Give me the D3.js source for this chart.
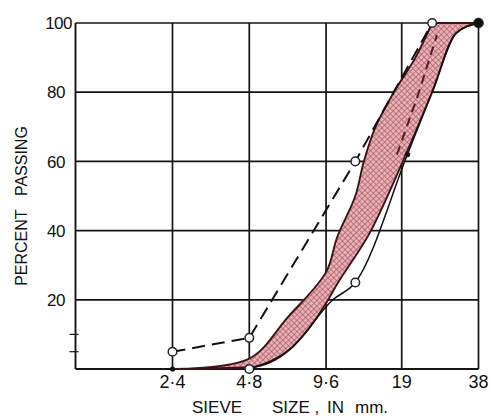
<!DOCTYPE html>
<html>
<head>
<meta charset="utf-8">
<script src="https://cdn.jsdelivr.net/npm/d3@7"></script>
<style>
  html, body { margin: 0; padding: 0; background: #fff; }
  svg { display: block; }
  text { font-family: "Liberation Sans", Arial, sans-serif; fill: #111; }
</style>
</head>
<body>
<svg id="chart" width="491" height="417"></svg>
<script>
// ---------- data ----------
const sizeTicks = [2.4, 4.8, 9.6, 19, 38];
const sizeTickLabels = ["2·4", "4·8", "9·6", "19", "38"];
const pctTicks = [20, 40, 60, 80, 100];
const pctTickLabels = ["20", "40", "60", "80", "100"];
const minorPctTicks = [5, 10];

// upper (fine) limit, dashed with open circles
const upperLimitSize = [2.4, 4.8, 12.5, 25];
const upperLimitPct  = [5, 9, 60, 100];

// lower (coarse) limit, solid line
const lowerLimitSize = [4.8, 7, 10.2, 12.5, 20, 25, 31, 38];
const lowerLimitPct  = [0, 6, 20, 25, 62, 80, 97, 100];
const lowerLimitMark = ["o", "", "", "o", "dot", "", "", "big"];

// shaded grading band: upper (left) edge and lower (right) edge
const bandUpperSize = [2.4, 4.8, 6.8, 9.6, 10.6, 12.5, 13.5, 15, 17.7, 21.5, 25, 38];
const bandUpperPct  = [0, 3, 15, 28, 38, 50, 60, 70, 80, 90, 100, 100];
const bandLowerSize = [2.4, 4.8, 7, 9.6, 10.5, 14.4, 19.2, 25, 31, 38];
const bandLowerPct  = [0, 0.5, 6, 19, 24, 40, 60, 80, 97, 100];

// dashed trace inside the band
const midSize = [18.2, 22.2, 26.1];
const midPct  = [62, 80, 96.5];

// ---------- chart ----------
const svg = d3.select("#chart");
const x = d3.scaleLog().domain([1, 38]).range([75.5, 478.5]);
const y = d3.scaleLinear().domain([0, 100]).range([369, 23]);

// pattern for the band
const defs = svg.append("defs");
const pat = defs.append("pattern")
  .attr("id", "hatch").attr("patternUnits", "userSpaceOnUse")
  .attr("width", 4).attr("height", 4)
  .attr("patternTransform", "rotate(45)");
pat.append("rect").attr("width", 4).attr("height", 4).attr("fill", "#e8b2b7");
pat.append("line").attr("x1", 0).attr("y1", 0).attr("x2", 4).attr("y2", 0)
  .attr("stroke", "#a24e59").attr("stroke-width", 1.2);
pat.append("line").attr("x1", 0).attr("y1", 0).attr("x2", 0).attr("y2", 4)
  .attr("stroke", "#a24e59").attr("stroke-width", 1.2);

const [xl, xr] = x.range();
const [yb, yt] = y.range();

// grid
const g = svg.append("g").attr("stroke", "#151515").attr("stroke-width", 1.7).attr("fill", "none");
g.selectAll(".hg").data(pctTicks).join("line")
  .attr("x1", xl).attr("x2", xr).attr("y1", d => y(d)).attr("y2", d => y(d));
g.selectAll(".vg").data(sizeTicks).join("line")
  .attr("x1", d => x(d)).attr("x2", d => x(d)).attr("y1", yb).attr("y2", yt);
g.append("line").attr("x1", xl).attr("x2", xl).attr("y1", yb).attr("y2", yt).attr("stroke-width", 1.9);
g.append("line").attr("x1", xl).attr("x2", xr).attr("y1", yb).attr("y2", yb).attr("stroke-width", 1.9);
// minor ticks on the left axis
g.selectAll(".mt").data(minorPctTicks).join("line")
  .attr("x1", xl - 6).attr("x2", xl + 3).attr("y1", d => y(d)).attr("y2", d => y(d))
  .attr("stroke-width", 1.2);

// band
const catmull = d3.line().curve(d3.curveCatmullRom.alpha(0.5));
const mono = d3.line().curve(d3.curveMonotoneX);
const upperPts = bandUpperSize.map((s, i) => [x(s), y(bandUpperPct[i])]);
const topIdx = bandUpperPct.indexOf(100);
const upperD = catmull(upperPts.slice(0, topIdx + 1)) +
  upperPts.slice(topIdx + 1).map(p => "L" + p[0] + "," + p[1]).join("");
const lowerRevPts = bandLowerSize.map((s, i) => [x(s), y(bandLowerPct[i])]).reverse();
const bandD = upperD + mono(lowerRevPts).replace(/^M/, "L") + "Z";
svg.append("path")
  .attr("d", bandD)
  .attr("fill", "url(#hatch)")
  .attr("stroke", "#3d1416").attr("stroke-width", 1.9).attr("stroke-linejoin", "round");

// dashed trace inside band
svg.append("path")
  .attr("d", d3.line()(midSize.map((s, i) => [x(s), y(midPct[i])])))
  .attr("fill", "none").attr("stroke", "#5a1a20").attr("stroke-width", 2)
  .attr("stroke-dasharray", "9,6");

// lower limit
svg.append("path")
  .attr("d", mono(lowerLimitSize.map((s, i) => [x(s), y(lowerLimitPct[i])])))
  .attr("fill", "none").attr("stroke", "#111").attr("stroke-width", 1.5);

// upper limit dashed
svg.append("path")
  .attr("d", d3.line()(upperLimitSize.map((s, i) => [x(s), y(upperLimitPct[i])])))
  .attr("fill", "none").attr("stroke", "#111").attr("stroke-width", 2)
  .attr("stroke-dasharray", "13,7");

// markers
svg.selectAll(".uc").data(upperLimitSize).join("circle")
  .attr("cx", d => x(d)).attr("cy", (d, i) => y(upperLimitPct[i])).attr("r", 4.3)
  .attr("fill", "#fff").attr("stroke", "#222").attr("stroke-width", 1.5);

const lowMarks = lowerLimitSize.map((s, i) => ({ s, p: lowerLimitPct[i], m: lowerLimitMark[i] }))
  .filter(d => d.m);
svg.selectAll(".lc").data(lowMarks).join("circle")
  .attr("cx", d => x(d.s)).attr("cy", d => y(d.p))
  .attr("r", d => d.m === "o" ? 4.3 : d.m === "big" ? 5 : 2.6)
  .attr("fill", d => d.m === "o" ? "#fff" : "#111")
  .attr("stroke", "#222").attr("stroke-width", d => d.m === "o" ? 1.5 : 0.5);

// band start dot
svg.append("circle").attr("cx", x(bandLowerSize[0])).attr("cy", y(bandLowerPct[0]))
  .attr("r", 2.6).attr("fill", "#111");

// y tick labels
svg.selectAll(".yl").data(pctTicks).join("text")
  .attr("x", (d, i) => pctTickLabels[i].length > 2 ? 72 : 65)
  .attr("y", d => y(d)).attr("dy", "0.36em")
  .attr("text-anchor", "end").attr("font-size", 17).attr("letter-spacing", -0.5)
  .text((d, i) => pctTickLabels[i]);

// x tick labels
svg.selectAll(".xl").data(sizeTicks).join("text")
  .attr("x", d => x(d)).attr("y", 388)
  .attr("text-anchor", "middle").attr("font-size", 18)
  .text((d, i) => sizeTickLabels[i]);

// axis titles
svg.append("text")
  .attr("transform", "translate(27,206) rotate(-90)")
  .attr("text-anchor", "middle").attr("font-size", 16)
  .text("PERCENT\u00a0\u00a0\u00a0PASSING");

const xt = svg.append("text").attr("y", 413).attr("font-size", 17);
xt.append("tspan").attr("x", 192).text("SIEVE");
xt.append("tspan").attr("x", 272).text("SIZE ,");
xt.append("tspan").attr("x", 327).text("IN");
xt.append("tspan").attr("x", 355).text("mm.");
</script>
</body>
</html>
